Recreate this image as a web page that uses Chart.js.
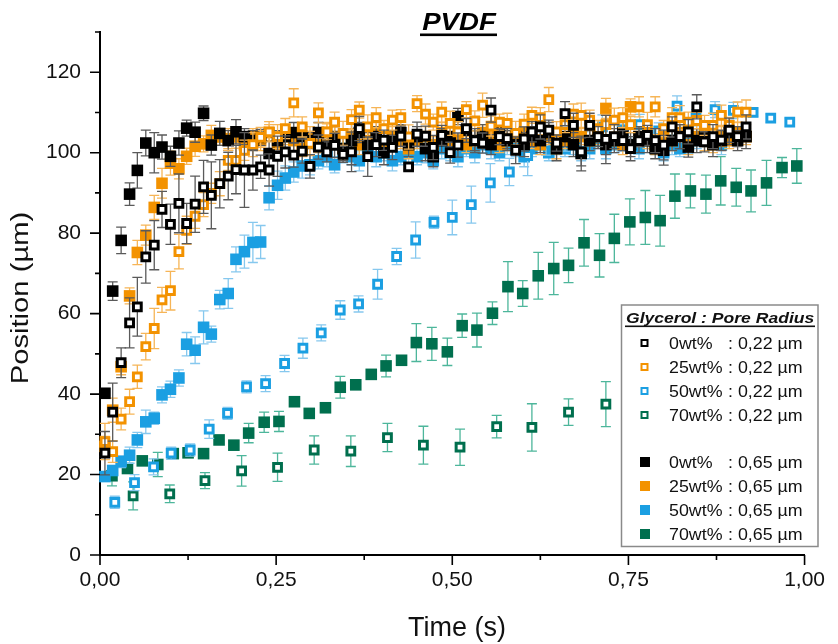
<!DOCTYPE html>
<html>
<head>
<meta charset="utf-8">
<script src="https://cdn.jsdelivr.net/npm/chart.js@4"></script>
<style>
  html, body { margin: 0; padding: 0; background: #fff; }
  canvas { display: block; }
</style>
</head>
<body>
<canvas id="chart" width="838" height="644"></canvas>
<script>
// time stamps (s) of the fast recordings (0 / 25 / 50 wt%)
const timeFast = [
  0.007, 0.018, 0.030, 0.042, 0.053, 0.065, 0.077, 0.088, 0.100, 0.112,
  0.123, 0.135, 0.147, 0.158, 0.170, 0.182, 0.193, 0.205, 0.217, 0.228,
  0.240, 0.252, 0.263, 0.275, 0.287, 0.298, 0.310, 0.322, 0.333, 0.345,
  0.357, 0.368, 0.380, 0.392, 0.403, 0.415, 0.427, 0.438, 0.450, 0.462,
  0.473, 0.485, 0.497, 0.508, 0.520, 0.532, 0.543, 0.555, 0.567, 0.578,
  0.590, 0.602, 0.613, 0.625, 0.637, 0.648, 0.660, 0.672, 0.683, 0.695,
  0.707, 0.718, 0.730, 0.742, 0.753, 0.765, 0.777, 0.788, 0.800, 0.812,
  0.823, 0.835, 0.847, 0.858, 0.870, 0.882, 0.893, 0.905, 0.917
];
const time50Small = [
  0.021, 0.049, 0.076, 0.101, 0.128, 0.155, 0.181, 0.208, 0.235, 0.262,
  0.288, 0.314, 0.341, 0.367, 0.394, 0.421, 0.448, 0.474, 0.500, 0.527,
  0.554, 0.581, 0.607, 0.633, 0.660, 0.686, 0.713, 0.740, 0.766, 0.793,
  0.819, 0.846, 0.873, 0.899, 0.927, 0.952, 0.979
];
const time70Large = [
  0.017, 0.039, 0.060, 0.082, 0.104, 0.125, 0.147, 0.169, 0.190, 0.211,
  0.233, 0.254, 0.276, 0.297, 0.320, 0.341, 0.363, 0.385, 0.406, 0.428,
  0.449, 0.471, 0.493, 0.514, 0.535, 0.557, 0.579, 0.600, 0.622, 0.644,
  0.665, 0.687, 0.709, 0.730, 0.752, 0.774, 0.795, 0.816, 0.838, 0.860,
  0.881, 0.903, 0.924, 0.946, 0.968, 0.989
];
const time70Small = [0.047, 0.099, 0.149, 0.201, 0.252, 0.304, 0.356, 0.408, 0.459, 0.511, 0.563, 0.613, 0.665, 0.718];

// position (µm) and error
const pos0Small = [
  25.3, 35.5, 47.8, 57.7, 61.7, 74.1, 77.0, 85.9, 82.2, 87.4,
  82.4, 87.2, 91.5, 89.4, 92.3, 94.2, 95.8, 95.7, 95.7, 96.5,
  95.7, 99.1, 100.2, 99.4, 100.4, 96.6, 101.4, 100.2, 101.8, 99.6,
  100.2, 106.0, 99.0, 102.0, 103.1, 101.3, 104.1, 96.5, 104.6, 104.1,
  101.3, 104.3, 100.0, 101.9, 106.0, 103.0, 102.4, 110.6, 104.0, 103.5,
  100.6, 103.4, 105.2, 106.4, 105.6, 102.4, 109.7, 106.8, 100.2, 106.8,
  104.0, 103.3, 104.0, 103.0, 101.0, 103.0, 104.3, 103.0, 101.9, 106.4,
  104.0, 105.2, 111.4, 102.7, 104.0, 103.1, 105.6, 104.0, 106.4
];
const err0Small = [
  5.4, 7.2, 3.7, 6.2, 7.3, 6.5, 6.1, 4.5, 5.0, 7.3,
  5.0, 7.0, 6.6, 8.3, 6.0, 5.9, 6.0, 9.3, 5.0, 2.9,
  4.0, 5.0, 4.0, 3.0, 3.0, 2.9, 3.0, 2.5, 3.0, 2.0,
  4.9, 3.0, 4.9, 3.0, 2.5, 3.0, 2.5, 0.8, 3.0, 2.5,
  3.0, 2.5, 2.6, 3.0, 2.5, 3.0, 2.5, 3.0, 2.0, 2.5,
  3.3, 3.0, 2.5, 3.0, 2.5, 2.0, 3.0, 3.0, 3.5, 3.0,
  2.5, 6.0, 3.0, 2.5, 3.0, 3.0, 2.5, 3.0, 3.7, 2.5,
  3.0, 3.0, 3.0, 2.5, 3.0, 2.5, 3.0, 2.5, 3.0
];
const pos25Small = [
  28.2, 25.7, 33.8, 38.1, 44.3, 51.8, 56.3, 63.4, 65.7, 75.4,
  80.7, 84.2, 87.1, 89.9, 92.3, 98.1, 98.1, 100.6, 102.0, 103.8,
  105.2, 104.0, 106.0, 112.4, 106.4, 102.3, 109.9, 105.2, 107.6, 104.8,
  108.2, 110.6, 106.4, 108.7, 106.0, 108.1, 108.7, 103.9, 112.2, 109.6,
  107.6, 110.1, 107.3, 105.2, 110.7, 107.9, 111.8, 106.6, 107.6, 107.3,
  104.8, 107.1, 109.3, 108.7, 113.2, 105.2, 107.0, 109.6, 109.3, 108.1,
  106.0, 107.0, 108.1, 108.7, 107.0, 111.4, 107.0, 111.4, 106.0, 108.7,
  108.7, 107.6, 108.0, 106.8, 106.8, 109.3, 106.8, 110.1, 110.1
];
const err25Small = [
  4.5, 2.7, 2.7, 3.1, 2.9, 3.3, 5.0, 3.1, 4.8, 4.3,
  3.5, 3.0, 3.0, 2.5, 3.0, 2.5, 3.0, 2.5, 3.0, 2.5,
  2.5, 3.0, 2.5, 3.5, 2.5, 3.0, 2.5, 2.0, 2.5, 3.0,
  2.5, 2.0, 3.0, 2.5, 2.0, 2.5, 2.0, 3.0, 2.0, 2.5,
  2.0, 2.5, 3.0, 2.5, 2.0, 2.5, 3.0, 2.5, 2.0, 2.5,
  3.0, 2.5, 2.0, 2.5, 3.0, 2.5, 2.0, 2.5, 3.0, 2.5,
  2.0, 2.5, 3.0, 2.5, 2.0, 2.5, 3.0, 2.5, 2.0, 2.5,
  3.0, 2.5, 2.0, 2.5, 3.0, 2.5, 2.0, 2.5, 3.0
];
const pos50Small = [
  13.1, 18.0, 21.9, 25.3, 26.1, 31.3, 35.2, 41.8, 42.6, 47.6,
  51.4, 55.2, 60.9, 62.4, 67.3, 74.2, 78.3, 82.7, 83.9, 87.1,
  92.5, 95.2, 99.3, 102.4, 103.4, 102.2, 106.4, 103.4, 107.0, 105.4,
  111.6, 108.7, 110.7, 110.5, 110.0, 108.6, 107.6
];
const err50Small = [
  1.5, 2.0, 2.0, 1.5, 1.5, 2.3, 1.5, 1.5, 2.0, 2.0,
  2.5, 2.0, 2.3, 2.0, 3.7, 2.0, 4.5, 1.5, 4.3, 4.6,
  4.8, 3.4, 5.0, 3.0, 3.0, 3.0, 3.0, 3.0, 2.5, 2.0,
  2.5, 2.0, 2.0, 2.0, 1.0, 1.0, 1.0
];
const pos70Small = [14.7, 15.2, 18.5, 20.9, 21.8, 26.1, 25.8, 29.2, 27.3, 26.8, 31.9, 31.7, 35.5, 37.5];
const err70Small = [3.5, 2.2, 2.0, 3.8, 3.5, 3.5, 3.8, 3.5, 4.7, 4.5, 2.8, 5.9, 3.3, 5.6];

const pos0Large = [
  40.2, 65.6, 78.2, 89.7, 95.6, 102.4, 100.0, 101.4, 99.1, 102.4,
  106.1, 105.1, 109.8, 101.9, 104.8, 103.0, 105.2, 104.0, 103.0, 103.8,
  99.8, 103.0, 104.0, 105.0, 104.0, 103.0, 105.0, 102.0, 104.0, 101.0,
  103.0, 105.0, 102.0, 104.0, 100.0, 103.0, 105.0, 102.0, 104.0, 101.0,
  99.0, 103.0, 104.0, 109.0, 105.6, 103.0, 104.0, 102.0, 105.0, 103.0,
  104.0, 102.0, 104.0, 103.0, 105.0, 101.0, 104.0, 102.0, 99.8, 103.0,
  104.0, 102.0, 103.0, 105.0, 102.0, 104.0, 103.0, 101.0, 100.6, 103.0,
  104.0, 101.4, 103.0, 104.0, 102.0, 103.0, 105.0, 103.0, 104.0
];
const err0Large = [
  1.0, 2.3, 3.3, 2.8, 4.4, 3.2, 5.0, 3.0, 2.5, 3.0,
  2.0, 2.5, 1.8, 2.5, 3.0, 2.5, 3.0, 2.0, 2.5, 2.0,
  3.0, 2.5, 3.0, 2.5, 3.0, 2.0, 2.5, 3.0, 2.5, 3.0,
  6.0, 2.5, 3.0, 2.5, 3.0, 2.5, 2.0, 3.0, 2.5, 3.0,
  2.5, 3.0, 2.5, 2.0, 3.0, 2.5, 3.0, 2.5, 3.0, 2.5,
  2.0, 3.0, 2.5, 3.0, 2.5, 3.0, 2.5, 3.0, 4.3, 2.5,
  3.0, 2.5, 3.0, 2.5, 3.0, 2.5, 3.0, 2.5, 3.7, 2.5,
  3.0, 2.5, 3.0, 2.5, 3.0, 2.5, 3.0, 2.5, 3.0
];
const pos25Large = [
  27.0, 36.0, 46.8, 64.4, 75.2, 79.5, 86.4, 92.4, 97.4, 96.0,
  99.1, 101.6, 102.2, 104.3, 103.9, 103.5, 103.9,
  102, 104, 103, 105, 102, 104, 103, 101, 104, 102,
  105, 103, 101, 104, 102, 103, 105, 102, 104, 103,
  101, 103, 104, 102, 105, 103, 104, 102, 103, 105,
  104, 102, 103, 104, 105, 103, 102, 104, 101, 103,
  105, 104, 103, 104, 111, 103, 102, 111.4, 104, 103,
  102, 104, 103, 105, 102, 104, 103, 102, 104, 103,
  105, 104
];
const err25Large = [
  2.5, 3.0, 2.0, 2.0, 3.0, 2.5, 3.0, 3.7, 3.0, 2.5,
  2.0, 2.5, 2.0, 2.5, 2.0, 2.5, 2.0, 2.5, 2.0, 2.5,
  2.0, 2.5, 2.0, 2.5, 2.0, 2.5, 2.0, 2.5, 2.0, 2.5,
  2.0, 2.5, 2.0, 2.5, 2.0, 2.5, 2.0, 2.5, 2.0, 2.5,
  2.0, 2.5, 2.0, 2.5, 2.0, 2.5, 2.0, 2.5, 2.0, 2.5,
  2.0, 2.5, 2.0, 2.5, 2.0, 2.5, 2.0, 2.5, 2.0, 2.5,
  2.0, 2.5, 2.0, 2.5, 2.0, 2.5, 2.0, 2.5, 2.0, 2.5,
  2.0, 2.5, 2.0, 2.5, 2.0, 2.5, 2.0, 2.5, 2.0
];
const pos50Large = [
  19.5, 21.0, 23.2, 24.8, 28.6, 33.1, 34.0, 39.8, 41.2, 44.0,
  52.4, 50.9, 56.6, 54.9, 63.5, 65.0, 73.5, 75.4, 77.7, 77.8,
  88.8, 91.9, 93.7, 95.2, 96.7,
  97, 98, 99, 97, 100, 99, 98, 101, 99, 100,
  98, 99, 100, 99, 100, 98, 101, 100, 99, 101,
  100, 102, 101, 100, 102, 101, 99, 101, 103, 100,
  102, 101, 102, 100, 101, 103, 101, 102, 105.6, 102,
  101, 103, 102, 100, 102, 101, 102.3, 103, 104.8, 103,
  102, 104
];
const err50Large = [
  1.0, 1.0, 1.5, 2.0, 1.9, 2.9, 1.5, 2.0, 2.0, 2.0,
  2.9, 3.3, 4.1, 2.0, 2.3, 3.7, 3.1, 4.1, 5.0, 4.1,
  3.0, 3.5, 3.0, 2.5, 3.0, 2.5, 2.0, 2.5, 2.0, 2.5,
  2.0, 2.5, 2.0, 2.5, 2.0, 2.5, 2.0, 2.5, 2.0, 2.5,
  2.0, 2.5, 2.0, 2.5, 2.0, 2.5, 2.0, 2.5, 2.0, 2.5,
  2.0, 2.5, 2.0, 2.5, 2.0, 2.5, 2.0, 2.5, 2.0, 2.5,
  2.0, 2.5, 2.0, 2.5, 2.0, 2.5, 2.0, 2.5, 2.0, 2.5,
  2.0, 2.5, 2.0, 2.5, 2.0, 2.5, 2.0
];
const pos70Large = [
  19.7, 21.5, 23.4, 22.5, 25.2, 25.4, 25.2, 28.6, 27.3, 30.3,
  33.0, 33.2, 38.1, 35.2, 36.6, 41.7, 42.3, 44.9, 47.0, 48.4,
  52.8, 52.5, 50.5, 57.0, 55.9, 60.1, 66.7, 65.0, 69.4, 71.2,
  72.0, 77.6, 74.5, 78.7, 82.8, 83.9, 83.1, 89.2, 90.5, 89.7,
  93.0, 91.4, 90.5, 92.5, 96.3, 96.7
];
const err70Large = [
  2.5, 0.5, 0.5, 3.0, 0.5, 1.0, 0.5, 1.0, 0.5, 2.4,
  2.5, 2.5, 1.0, 0.5, 0.5, 2.7, 0.5, 0.5, 2.7, 0.5,
  4.7, 4.1, 3.4, 2.9, 4.2, 2.8, 6.2, 3.2, 5.8, 6.5,
  4.3, 5.8, 5.4, 6.0, 5.7, 6.7, 6.3, 5.5, 4.2, 4.7,
  6.0, 4.7, 5.2, 5.6, 2.5, 4.3
];

const xTicks = [0, 0.25, 0.5, 0.75, 1];
const yTicks = [0, 20, 40, 60, 80, 100, 120];

const BLACK = '#000000', ORANGE = '#F39200', BLUE = '#1B9FE2', GREEN = '#006F4E';
const BLACK_ERR = '#5a5a5a', ORANGE_ERR = '#F6B557', BLUE_ERR = '#86C8EE', GREEN_ERR = '#4DB69B';

const pts = (t, v) => v.map((y, i) => ({ x: t[i], y }));

const hollow = (label, color, errColor, t, v, e) => ({
  label, data: pts(t, v), errors: e, errorColor: errColor, clip: false,
  pointStyle: 'rect', pointRadius: 5.5, pointBorderWidth: 3,
  pointBorderColor: color, pointBackgroundColor: '#ffffff'
});
const filled = (label, color, errColor, t, v, e) => ({
  label, data: pts(t, v), errors: e, errorColor: errColor, clip: false,
  pointStyle: 'rect', pointRadius: 8.2, pointBorderWidth: 0,
  pointBorderColor: color, pointBackgroundColor: color
});

const datasets = [
  hollow('0wt% : 0,22 µm', BLACK, BLACK_ERR, timeFast, pos0Small, err0Small),
  hollow('25wt% : 0,22 µm', ORANGE, ORANGE_ERR, timeFast, pos25Small, err25Small),
  filled('0wt% : 0,65 µm', BLACK, BLACK_ERR, timeFast, pos0Large, err0Large),
  filled('25wt% : 0,65 µm', ORANGE, ORANGE_ERR, timeFast, pos25Large, err25Large),
  hollow('50wt% : 0,22 µm', BLUE, BLUE_ERR, time50Small, pos50Small, err50Small),
  filled('50wt% : 0,65 µm', BLUE, BLUE_ERR, timeFast, pos50Large, err50Large),
  hollow('70wt% : 0,22 µm', GREEN, GREEN_ERR, time70Small, pos70Small, err70Small),
  filled('70wt% : 0,65 µm', GREEN, GREEN_ERR, time70Large, pos70Large, err70Large)
];

const legendRows = [
  ['0wt%', ': 0,22 µm', BLACK, true], ['25wt%', ': 0,22 µm', ORANGE, true],
  ['50wt%', ': 0,22 µm', BLUE, true], ['70wt%', ': 0,22 µm', GREEN, true],
  ['0wt%', ': 0,65 µm', BLACK, false], ['25wt%', ': 0,65 µm', ORANGE, false],
  ['50wt%', ': 0,65 µm', BLUE, false], ['70wt%', ': 0,65 µm', GREEN, false]
];

const FONT = '"Liberation Sans", Arial, sans-serif';

function wideText(ctx, text, x, y, sx, align) {
  ctx.save();
  ctx.translate(x, y);
  ctx.scale(sx, 1);
  ctx.textAlign = align;
  ctx.fillText(text, 0, 0);
  ctx.restore();
}

// error bars under each dataset's markers
const errorBars = {
  id: 'errorBars',
  beforeDatasetDraw(chart, args) {
    const ds = chart.data.datasets[args.index];
    if (!ds.errors) return;
    const { ctx, scales: { x, y } } = chart;
    ctx.save();
    ctx.strokeStyle = ds.errorColor;
    ctx.lineWidth = 1.3;
    ds.data.forEach((p, i) => {
      const e = ds.errors[i];
      if (!e) return;
      const px = x.getPixelForValue(p.x);
      const top = y.getPixelForValue(p.y + e), bot = y.getPixelForValue(p.y - e);
      ctx.beginPath();
      ctx.moveTo(px, top); ctx.lineTo(px, bot);
      ctx.moveTo(px - 5, top); ctx.lineTo(px + 5, top);
      ctx.moveTo(px - 5, bot); ctx.lineTo(px + 5, bot);
      ctx.stroke();
    });
    ctx.restore();
  }
};

// ticks, titles, legend box
const decorations = {
  id: 'decorations',
  afterDraw(chart) {
    const { ctx, scales: { x, y }, chartArea: a } = chart;
    ctx.save();
    ctx.strokeStyle = '#000';
    ctx.lineWidth = 1.6;
    ctx.beginPath();
    for (let v = 0; v <= 1.0001; v += 0.125) {
      const px = x.getPixelForValue(v);
      const major = xTicks.some(t => Math.abs(t - v) < 1e-6);
      ctx.moveTo(px, a.bottom); ctx.lineTo(px, a.bottom + (major ? 10 : 5));
    }
    for (let v = 0; v <= 130; v += 10) {
      const py = y.getPixelForValue(v);
      const major = yTicks.includes(v);
      ctx.moveTo(a.left, py); ctx.lineTo(a.left - (major ? 10 : 5), py);
    }
    ctx.stroke();

    // chart title
    ctx.fillStyle = '#000';
    ctx.font = 'italic bold 24px ' + FONT;
    ctx.textBaseline = 'alphabetic';
    wideText(ctx, 'PVDF', 459, 30, 1.15, 'center');
    ctx.fillRect(420, 33.5, 77, 2.6);

    // axis titles
    ctx.font = '27px ' + FONT;
    ctx.fillStyle = '#111';
    wideText(ctx, 'Time (s)', 457, 636, 1.0, 'center');
    ctx.save();
    ctx.translate(28, 298);
    ctx.rotate(-Math.PI / 2);
    ctx.font = '23px ' + FONT;
    wideText(ctx, 'Position (µm)', 0, 0, 1.27, 'center');
    ctx.restore();

    // legend
    ctx.fillStyle = '#fff';
    ctx.fillRect(621.5, 305, 196.5, 241.5);
    ctx.strokeStyle = '#8a8a8a';
    ctx.lineWidth = 1.5;
    ctx.strokeRect(621.5, 305, 196.5, 241.5);
    ctx.fillStyle = '#111';
    ctx.font = 'italic bold 15px ' + FONT;
    wideText(ctx, 'Glycerol : Pore Radius', 626, 323, 1.17, 'left');
    ctx.fillRect(625, 325.5, 190, 1.6);
    ctx.font = '16.5px ' + FONT;
    ctx.textBaseline = 'middle';
    legendRows.forEach(([wt, rad, color, isHollow], i) => {
      const cy = i < 4 ? 343 + 24 * i : 462 + 24 * (i - 4);
      if (isHollow) {
        ctx.strokeStyle = color; ctx.lineWidth = 2;
        ctx.strokeRect(641.5, cy - 3, 6, 6);
      } else {
        ctx.fillStyle = color;
        ctx.fillRect(640, cy - 5, 10, 10);
      }
      ctx.fillStyle = '#111';
      wideText(ctx, wt, 669, cy + 1, 1.08, 'left');
      wideText(ctx, rad, 728, cy + 1, 1.08, 'left');
    });
    ctx.restore();
  }
};

new Chart(document.getElementById('chart'), {
  type: 'scatter',
  data: { datasets },
  options: {
    responsive: false,
    animation: false,
    devicePixelRatio: 1,
    layout: { padding: { top: 32, right: 23, left: 0, bottom: 0 } },
    plugins: { legend: { display: false }, tooltip: { enabled: false } },
    scales: {
      x: {
        type: 'linear', min: 0, max: 1,
        afterFit: s => { s.height = 89; },
        afterBuildTicks: s => { s.ticks = xTicks.map(value => ({ value })); },
        grid: { display: true, drawOnChartArea: false, drawTicks: false },
        border: { color: '#000', width: 2 },
        ticks: {
          padding: 13, color: '#111', font: { family: FONT, size: 21 },
          autoSkip: false, maxRotation: 0,
          callback: v => v.toFixed(2).replace('.', ',')
        }
      },
      y: {
        min: 0, max: 130,
        afterFit: s => { s.width = 100; },
        afterBuildTicks: s => { s.ticks = yTicks.map(value => ({ value })); },
        grid: { display: true, drawOnChartArea: false, drawTicks: false },
        border: { color: '#000', width: 2 },
        ticks: { padding: 19, color: '#111', font: { family: FONT, size: 21 } }
      }
    }
  },
  plugins: [errorBars, decorations]
});
</script>
</body>
</html>
